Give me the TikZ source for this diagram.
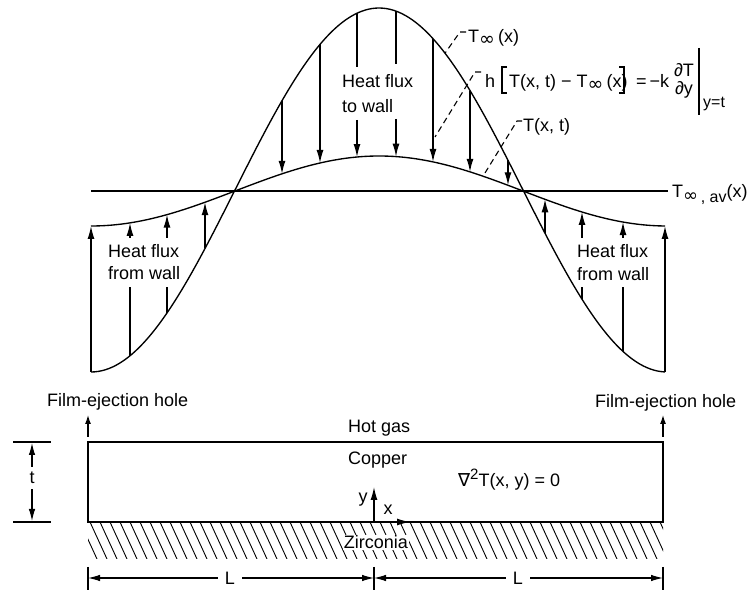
\documentclass[tikz,border=0pt]{standalone}
\usepackage{fontspec}
\setmainfont{Liberation Sans}
\newfontfamily\symfont{DejaVu Sans}
\usetikzlibrary{arrows.meta}
\newcommand{\infsub}{\raisebox{-3pt}{\symfont\fontsize{19}{19}\selectfont ∞}}
\begin{document}
\begin{tikzpicture}[x=1pt,y=-1pt,
  declare function={Ti(\t)=190-182*cos(0.625*(\t-379)); Tw(\t)=191-35*cos(0.625*(\t-379));},
  every node/.style={font=\fontsize{18}{22}\selectfont, inner sep=0pt},
  ln/.style={line width=1.35pt},
  flux/.style={line width=1.35pt, -{Latex[length=13pt,width=7pt]}},
  small/.style={line width=1.2pt, -{Latex[length=9pt,width=6pt]}},
  lead/.style={line width=1.1pt, dash pattern=on 6pt off 4pt},
  dimarr/.style={line width=1.1pt, -{Latex[length=12pt,width=6.5pt]}},
  lbl/.style={anchor=base west}]
\useasboundingbox (0,0) rectangle (753,593);

% curves
\draw[ln] plot[domain=91:665, samples=160, smooth] (\x,{Ti(\x)});
\draw[ln] plot[domain=91:665, samples=160, smooth] (\x,{Tw(\x)});
\coordinate (avL) at (91,191);
\coordinate (avR) at (668,191);
\draw[ln] (avL) -- (avR);

% heat flux to wall
\foreach \xx in {282,320,433,470,508} \draw[flux] (\xx,{Ti(\xx)}) -- (\xx,{Tw(\xx)});
\draw[ln] (357,{Ti(357)}) -- (357,67);
\draw[flux] (357,120) -- (357,{Tw(357)});
\draw[ln] (396,{Ti(396)}) -- (396,64);
\draw[flux] (396,119) -- (396,{Tw(396)});

% heat flux from wall
\foreach \xx in {91,205,545,665} \draw[flux] (\xx,{Ti(\xx)}) -- (\xx,{Tw(\xx)});
\foreach \xx in {130,167,582,623} {
  \draw[ln] (\xx,{Ti(\xx)}) -- (\xx,287);
  \draw[flux] (\xx,238) -- (\xx,{Tw(\xx)});
}

% flux labels
\node[lbl] (tw1) at (342,88) {Heat flux};
\node[lbl] (tw2) at (342,113) {to wall};
\node[lbl] (fl1) at (108,258) {Heat flux};
\node[lbl] (fl2) at (108,280) {from wall};
\node[lbl] (fr1) at (577,258) {Heat flux};
\node[lbl] (fr2) at (577,281) {from wall};

% T_inf(x) label
\node[lbl] (tinf) at (468,43) {T\infsub\,(x)};
\coordinate (tinfC) at (445,{Ti(445)});
\draw[lead] (466,32) -- (460,32) -- (tinfC);

% equation
\node[lbl] (eqh) at (485,88) {h};
\node[lbl] (eqin) at (509,88) {T(x, t) − T\infsub\,(x)};
\draw[line width=1.2pt] (507,67) -- (502,67) -- (502,93) -- (507,93);
\draw[line width=1.2pt] (619,67) -- (624,67) -- (624,93) -- (619,93);
\node[lbl] (eqk) at (636,88) {=\,−k};
\node (eqn) at (684,70) {∂T};
\node (eqd) at (684,90) {∂y};
\coordinate (barT) at (699,48);
\coordinate (barB) at (699,115);
\draw[line width=1.4pt] (barT) -- (barB);
\node[anchor=west, font=\fontsize{16}{16}\selectfont] (eqyt) at (703,104) {y=t};
\coordinate (eqC) at (435,137);
\draw[lead] (481,72) -- (475,72) -- (eqC);

% T(x,t) label
\node[lbl] (twl) at (523,132) {T(x, t)};
\coordinate (twC) at (483,{Tw(483)});
\draw[lead] (522,121) -- (517,121) -- (twC);

% T_inf,av label
\node[lbl] (tav) at (672,198) {T\raisebox{-4pt}{\symfont\fontsize{18}{18}\selectfont ∞}\raisebox{-5pt}{\fontsize{16}{16}\selectfont\,, av}(x)};

% film ejection holes
\node[lbl] (feL) at (47,407) {Film-ejection hole};
\node[lbl] (feR) at (595,408) {Film-ejection hole};
\coordinate (hL0) at (88,437); \coordinate (hL1) at (88,415);
\coordinate (hR0) at (663,437); \coordinate (hR1) at (663,415);
\draw[small] (hL0) -- (hL1);
\draw[small] (hR0) -- (hR1);

% plate and hatching
\begin{scope}
\clip (88,522) rectangle (663,559);
\foreach \xx in {60,70,...,680} \draw[line width=0.9pt] (\xx,522) -- (\xx+17,559);
\end{scope}
\draw[line width=1.5pt] (88,442) rectangle (663,522);
\node[lbl] (hot) at (348,433) {Hot gas};
\node[lbl] (cu) at (348,465) {Copper};
\node[lbl] (lap) at (458,487) {{\symfont ∇}\raisebox{7pt}{\fontsize{15}{15}\selectfont 2}T(x, y) = 0};
\node[anchor=base, fill=white, inner sep=1pt] (zr) at (376,549) {Zirconia};

% axes
\coordinate (O) at (374,522);
\coordinate (Oy) at (374,487);
\coordinate (Ox) at (410,522);
\draw[flux] (O) -- (Oy);
\draw[flux] (O) -- (Ox);
\node (ylab) at (363,500) {y};
\node (xlab) at (388,510) {x};

% t dimension
\draw[line width=1.1pt] (13,442) -- (51,442);
\draw[line width=1.1pt] (13,522) -- (51,522);
\coordinate (tTop) at (32,443);
\coordinate (tBot) at (32,521);
\node[inner sep=5pt] (tlab) at (32,478) {t};
\draw[dimarr] (tlab) -- (tTop);
\draw[dimarr] (tlab) -- (tBot);

% L dimensions
\coordinate (dA) at (88,578);
\coordinate (dB) at (374,578);
\coordinate (dC) at (663,578);
\foreach \xx in {88,374,663} \draw[line width=1.1pt] (\xx,567) -- (\xx,590);
\node[inner sep=7pt] (L1) at (230,578) {L};
\node[inner sep=7pt] (L2) at (518,578) {L};
\draw[dimarr] (L1) -- (dA);
\draw[dimarr] (L1) -- (dB);
\draw[dimarr] (L2) -- (dB);
\draw[dimarr] (L2) -- (dC);
\end{tikzpicture}
\end{document}
